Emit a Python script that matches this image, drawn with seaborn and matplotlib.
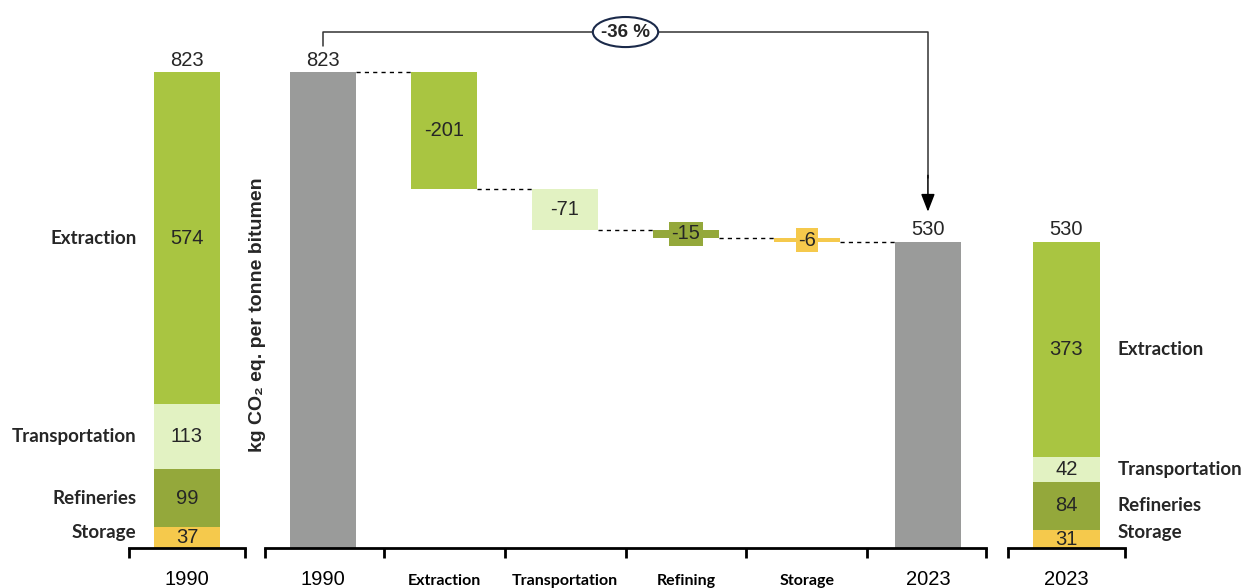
import numpy as np
import pandas as pd
import matplotlib
matplotlib.use("Agg")
import matplotlib.pyplot as plt
from matplotlib.lines import Line2D
from matplotlib.patches import Ellipse
import seaborn as sns

# ---- data -------------------------------------------------------------
segments = ["Extraction", "Transportation", "Refineries", "Storage"]
values_1990 = [574, 113, 99, 37]
values_2023 = [373, 42, 84, 31]
total_1990 = 823
total_2023 = 530
steps = ["Extraction", "Transportation", "Refining", "Storage"]
step_changes = [-201, -71, -15, -6]
change_label = "-36 %"
year_start = "1990"
year_end = "2023"
ylabel = "kg CO\u2082 eq. per tonne bitumen"

# ---- style ------------------------------------------------------------
sns.set_theme(style="white")
plt.rcParams["font.family"] = ["Liberation Sans", "DejaVu Sans"]

GREY = "#9a9b9a"
seg_colors = {"Extraction": "#a9c541", "Transportation": "#e2f2c2",
              "Refineries": "#94a83b", "Storage": "#f5c94c"}
step_colors = [seg_colors["Extraction"], seg_colors["Transportation"],
               seg_colors["Refineries"], seg_colors["Storage"]]
NUM_FS = 14.5
LAB_FONT = ["Lato", "DejaVu Sans"]
NUM_FONT = ["Liberation Sans", "DejaVu Sans"]
BAR_W = 0.545
YMAX = 900

W, H = 1243, 588
fig = plt.figure(figsize=(W / 100, H / 100), dpi=100)
bottom, height = 40 / H, 520 / H
ax_l = fig.add_axes([129 / W, bottom, 116 / W, height])
ax_m = fig.add_axes([265 / W, bottom, 721 / W, height])
ax_r = fig.add_axes([1008 / W, bottom, 117 / W, height])


def style_axis(ax, xlim, major, minor, minor_labels, label_fonts):
    ax.set_xlim(*xlim)
    ax.set_ylim(0, YMAX)
    for s in ["left", "right", "top"]:
        ax.spines[s].set_visible(False)
    ax.spines["bottom"].set_color("black")
    ax.spines["bottom"].set_linewidth(2)
    ax.set_yticks([])
    ax.set_ylabel("")
    ax.set_xlabel("")
    ax.set_xticks(major)
    ax.set_xticklabels([])
    ax.set_xticks(minor, minor=True)
    ax.set_xticklabels(minor_labels, minor=True)
    ax.tick_params(axis="x", which="major", direction="out", length=7,
                   width=2, color="black", bottom=True)
    # labels share a common baseline below the axis line
    ax.tick_params(axis="x", which="minor", length=0, pad=26.5)
    for t, (fam, fs, fw) in zip(ax.get_xticklabels(minor=True), label_fonts):
        t.set_family(fam)
        t.set_fontsize(fs)
        t.set_fontweight(fw)
        t.set_color("black")
        t.set_verticalalignment("baseline")


def stacked_side(ax, values, total, year, side):
    order = segments
    cum = np.cumsum(values[::-1])[::-1]  # cumulative from the bottom up
    for seg, top in zip(order, cum):
        df = pd.DataFrame({"year": [year], "value": [top]})
        sns.barplot(data=df, x="year", y="value", color=seg_colors[seg],
                    width=BAR_W, saturation=1, ax=ax, linewidth=0)
    lows = np.concatenate([cum[1:], [0]])
    for seg, v, lo in zip(order, values, lows):
        mid = lo + v / 2
        ax.text(0, mid, f"{v}", ha="center", va="center", fontsize=NUM_FS)
        ly = max(mid, 26)
        if side == "left":
            ax.text(-0.42, ly, seg, ha="right", va="center", fontsize=13.5,
                    fontweight="bold", family=LAB_FONT)
        else:
            ax.text(0.42, ly, seg, ha="left", va="center", fontsize=13.5,
                    fontweight="bold", family=LAB_FONT)
    ax.text(0, total + 4, f"{total}", ha="center", va="bottom", fontsize=NUM_FS)


# ---- left stacked bar (1990) -----------------------------------------
stacked_side(ax_l, values_1990, total_1990, year_start, "left")
style_axis(ax_l, (-0.48, 0.48), [-0.48, 0.48], [0], [year_start],
           [(NUM_FONT, 14.5, "normal")])

# ---- right stacked bar (2023) ----------------------------------------
stacked_side(ax_r, values_2023, total_2023, year_end, "right")
style_axis(ax_r, (-0.48, 0.48), [-0.48, 0.48], [0], [year_end],
           [(NUM_FONT, 14.5, "normal")])

# ---- waterfall (middle) ----------------------------------------------
cats = [year_start] + steps + [year_end]
totals_df = pd.DataFrame({"cat": cats,
                          "value": [total_1990, 0, 0, 0, 0, total_2023]})
sns.barplot(data=totals_df, x="cat", y="value", order=cats, color=GREY,
            width=BAR_W, saturation=1, ax=ax_m, linewidth=0)

level = total_1990
levels = [level]
for i, (chg, col) in enumerate(zip(step_changes, step_colors), start=1):
    new = level + chg
    ax_m.bar(i, level - new, bottom=new, width=BAR_W, color=col, linewidth=0)
    mid = (level + new) / 2
    if abs(chg) >= 30:
        ax_m.text(i, mid, f"{chg}", ha="center", va="center", fontsize=NUM_FS)
    else:
        ax_m.text(i, mid, f"{chg}", ha="center", va="center", fontsize=NUM_FS,
                  bbox=dict(boxstyle="square,pad=0.12", fc=col, ec="none"))
    level = new
    levels.append(level)

# dashed connectors between consecutive bars
for i, lv in enumerate(levels):
    ax_m.plot([i + BAR_W / 2, i + 1 - BAR_W / 2], [lv, lv], color="black",
              lw=1, ls=(0, (3, 3)))

ax_m.text(0, total_1990 + 4, f"{total_1990}", ha="center", va="bottom",
          fontsize=NUM_FS)
ax_m.text(5, total_2023 + 4, f"{total_2023}", ha="center", va="bottom",
          fontsize=NUM_FS)

mid_fonts = [(NUM_FONT, 14.5, "normal")] + [(LAB_FONT, 11.5, "bold")] * 4 + \
            [(NUM_FONT, 14.5, "normal")]
style_axis(ax_m, (-0.48, 5.48), [-0.48, 0.5, 1.5, 2.5, 3.5, 4.5, 5.48],
           list(range(6)), cats, mid_fonts)

# bracket showing the overall change
top_y = 893
ax_m.add_line(Line2D([0, 0, 5, 5], [868, top_y, top_y, 640], color="#333333",
                     lw=1.1, clip_on=False))
ax_m.annotate("", xy=(5, 582), xytext=(5, 645),
              arrowprops=dict(arrowstyle="-|>,head_length=0.9,head_width=0.35",
                              color="black", lw=1.1, shrinkA=0, shrinkB=0),
              annotation_clip=False)
ax_m.add_patch(Ellipse((2.5, top_y), width=0.54, height=52, fc="white",
                       ec="#1b2a4a", lw=1.5, clip_on=False, zorder=5))
ax_m.text(2.5, top_y, change_label, ha="center", va="center", fontsize=13.5,
          fontweight="bold", clip_on=False, zorder=6)

# axis title
fig.text(258 / W, 1 - 315 / H, ylabel, rotation=90, ha="center", va="center",
         fontsize=14, fontweight="bold")

fig.savefig("out.png", dpi=100)
